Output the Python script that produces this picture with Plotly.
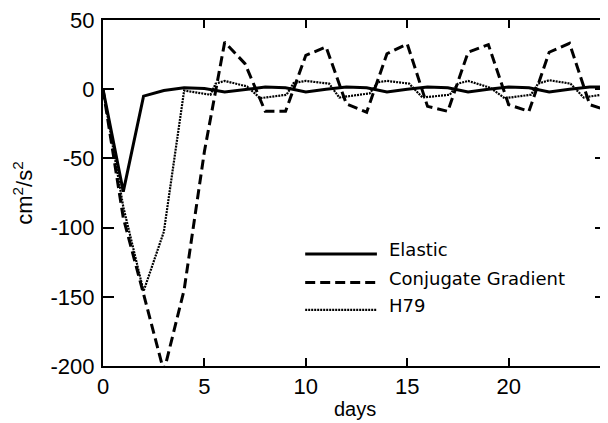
import plotly.graph_objects as go

# ---- data ----
days = list(range(0, 26))
elastic = [0, -74, -5, -1, 1, 0.5, -2, 0, 1.5, 1, -2, 0, 1.5, 1, -2, 0, 1.5, 1, -2, 0, 1.5, 1, -2, 0, 1.5, 1.8]
conj_grad = [0, -93, -148, -204, -145, -45, 34, 18.5, -16, -16, 24.5, 30.5, -10.7, -16.6, 25.6, 32.7,
             -12.4, -16, 26.7, 32.2, -11.2, -16, 26.7, 33.1, -11.2, -16]
h79_days = [0, 1, 2, 3, 4, 5.3, 5.55, 6.0, 7.1, 7.75, 9.05, 9.4, 10.0, 11.15, 11.65, 13.15, 13.55,
            14.0, 15.1, 15.75, 17.1, 17.5, 18.0, 19.1, 19.8, 21.1, 21.45, 22.0, 23.05, 23.7, 25]
h79 = [0, -85, -146, -103, -1, -4, 4, 6, 2, -6.5, -4, 4.5, 6, 4, -6, -3, 5, 6, 4, -6, -4, 4, 6, 1,
       -6.5, -4, 4, 6.5, 4, -6, -3]

x_tickvals = [0, 5, 10, 15, 20]
x_ticktext = ["0", "5", "10", "15", "20"]
y_tickvals = [50, 0, -50, -100, -150, -200]
y_ticktext = ["50", "0", "-50", "-100", "-150", "-200"]

series_names = ["Elastic", "Conjugate Gradient", "H79"]
x_title = "days"
y_title = "cm<sup>2</sup>/s<sup>2</sup>"

solid_style = dict(color="black", width=3)
dash_style = dict(color="black", width=3, dash="10px,5px")
dot_style = dict(color="black", width=2.2, dash="2px,1px")

fig = go.Figure()
fig.add_trace(go.Scatter(x=days, y=elastic, mode="lines", name=series_names[0], line=solid_style))
fig.add_trace(go.Scatter(x=days, y=conj_grad, mode="lines", name=series_names[1], line=dash_style))
fig.add_trace(go.Scatter(x=h79_days, y=h79, mode="lines", name=series_names[2], line=dot_style))

# ---- hand-drawn legend (long line samples as in the original) ----
# plot area in screen pixels (page body has an 8px margin, figure is offset by it)
L, B, W, H = 103, 366, 505, 352


def px(xp):
    return (xp - L) / W


def py(yp):
    return (B - yp) / H


legend_rows = [(252, 247, solid_style), (281, 277, dash_style), (309, 304, dot_style)]
for name, (ly, ty, lstyle) in zip(series_names, legend_rows):
    fig.add_shape(type="line", xref="paper", yref="paper",
                  x0=px(306), x1=px(378), y0=py(ly), y1=py(ly), line=lstyle)
    fig.add_annotation(xref="paper", yref="paper", x=px(388), y=py(ty), text=name,
                       showarrow=False, xanchor="left", yanchor="middle",
                       font=dict(family="DejaVu Sans", size=18, color="black"))

# x-axis title placed just above the bottom edge (as in the original)
fig.add_annotation(xref="paper", yref="paper", x=0.5, y=py(422), text=x_title,
                   showarrow=False, xanchor="center", yanchor="bottom", borderpad=0,
                   font=dict(family="Liberation Sans", size=20, color="black"))

axis_common = dict(showline=True, linecolor="black", linewidth=2, mirror="ticks",
                   ticks="inside", tickcolor="black", tickwidth=1.5,
                   showgrid=False, zeroline=False, ticklabeloverflow="allow",
                   tickfont=dict(family="Liberation Sans", size=22, color="black"))

fig.update_layout(
    width=600, height=415,
    margin=dict(l=95, r=0, t=6, b=57),
    paper_bgcolor="white", plot_bgcolor="white",
    showlegend=False,
    xaxis=dict(range=[0, 24.8], tickvals=x_tickvals, ticktext=x_ticktext, ticklen=8,
               ticklabelstandoff=0, **axis_common),
    yaxis=dict(range=[-200, 50], tickvals=y_tickvals, ticktext=y_ticktext, ticklen=11,
               ticklabelstandoff=2,
               title=dict(text=y_title, standoff=12,
                          font=dict(family="Liberation Sans", size=22, color="black")),
               **axis_common),
)

fig.write_html("out.html")
